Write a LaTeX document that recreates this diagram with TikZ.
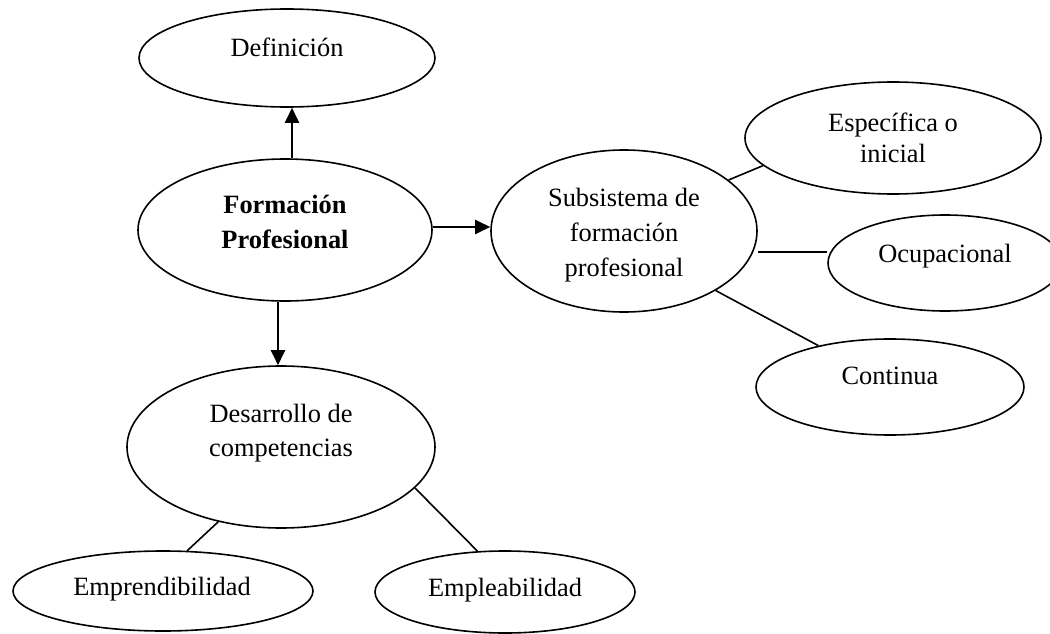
\documentclass[tikz,border=0pt]{standalone}
\usepackage{fontspec}
\setmainfont{Liberation Serif}
\usetikzlibrary{arrows.meta,shapes.geometric}
\begin{document}
\begin{tikzpicture}[x=1pt,y=-1pt,
  ell/.style={draw, ellipse, line width=1.6pt, inner sep=0pt},
  lbl/.style={anchor=base, inner sep=0pt, font=\fontsize{26.4}{30}\selectfont},
  arr/.style={line width=2.4pt, -{Triangle[length=15pt,width=14pt]}},
  lnk/.style={line width=1.6pt}]
\clip (0,0) rectangle (1050,634);
\fill[white] (0,0) rectangle (1050,634);
% ellipses
\node[ell, minimum width=296pt, minimum height=98pt]  (def)  at (287,58)  {};
\node[ell, minimum width=294pt, minimum height=142pt] (fp)   at (285,230) {};
\node[ell, minimum width=266pt, minimum height=162pt] (sub)  at (624,231) {};
\node[ell, minimum width=296pt, minimum height=112pt] (esp)  at (893,138) {};
\node[ell, minimum width=234pt, minimum height=96pt]  (ocu)  at (945,263) {};
\node[ell, minimum width=268pt, minimum height=96pt]  (cnt)  at (890,387) {};
\node[ell, minimum width=308pt, minimum height=162pt] (des)  at (281,447) {};
\node[ell, minimum width=300pt, minimum height=80pt]  (empr) at (163,591) {};
\node[ell, minimum width=260pt, minimum height=82pt]  (empl) at (505,592) {};
% texts
\node[lbl] (tdef)  at (287,57)  {Definición};
\node[lbl] (tfp1)  at (285,213) {\bfseries Formación};
\node[lbl] (tfp2)  at (285,248) {\bfseries Profesional};
\node[lbl] (tsub1) at (624,206) {Subsistema de};
\node[lbl] (tsub2) at (624,241) {formación};
\node[lbl] (tsub3) at (624,276) {profesional};
\node[lbl] (tesp1) at (893,131) {Específica o};
\node[lbl] (tesp2) at (893,162) {inicial};
\node[lbl] (tocu)  at (945,262) {Ocupacional};
\node[lbl] (tcnt)  at (890,384) {Continua};
\node[lbl] (tdes1) at (281,422) {Desarrollo de};
\node[lbl] (tdes2) at (281,456) {competencias};
\node[lbl] (tempr) at (162,595) {Emprendibilidad};
\node[lbl] (templ) at (505,596) {Empleabilidad};
% helper coordinates
\coordinate (ax) at (292,0);
\coordinate (dx) at (278,0);
\coordinate (ay) at (0,227);
\coordinate (oy) at (0,252);
% arrows
\draw[arr] (fp.north -| ax) -- (def.south -| ax);
\draw[arr] (fp.east |- ay) -- (sub.west |- ay);
\draw[arr] (fp.south -| dx) -- (des.north -| dx);
% plain connectors
\draw[lnk] (sub.26) -- (esp.192);
\draw[lnk] (sub.east |- oy) -- (ocu.west |- oy);
\draw[lnk] (sub.-33) -- (cnt.150);
\draw[lnk] (des.230) -- (empr.59);
\draw[lnk] (des.-17) -- (empl.124);
\end{tikzpicture}
\end{document}
